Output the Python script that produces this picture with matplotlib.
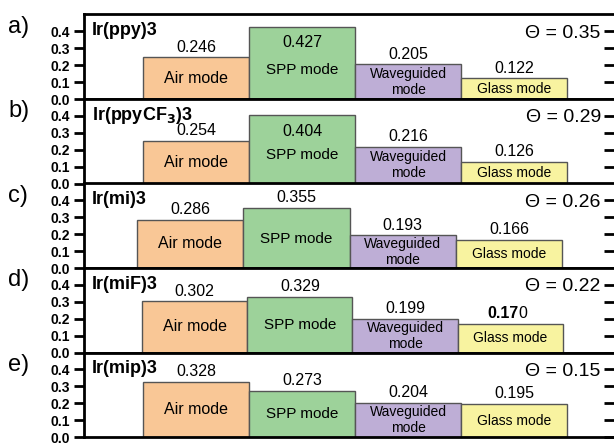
import matplotlib
matplotlib.use("Agg")
import matplotlib.pyplot as plt

plt.rcParams['font.family'] = ['Liberation Sans', 'DejaVu Sans']

# data
letters = ['a)', 'b)', 'c)', 'd)', 'e)']
emitters = ['Ir(ppy)3', r'Ir(ppyCF$_\mathbf{3}$)3', 'Ir(mi)3', 'Ir(miF)3', 'Ir(mip)3']
thetas = [0.35, 0.29, 0.26, 0.22, 0.15]
modes = ['Air mode', 'SPP mode', 'Waveguided\nmode', 'Glass mode']
air = [0.246, 0.254, 0.286, 0.302, 0.328]
spp = [0.427, 0.404, 0.355, 0.329, 0.273]
wg = [0.205, 0.216, 0.193, 0.199, 0.204]
glass = [0.122, 0.126, 0.166, 0.170, 0.195]
yticks = [0.0, 0.1, 0.2, 0.3, 0.4]

colors = ['#F9C796', '#9DD29A', '#BEAED6', '#F8F3A0']
mode_fs = [11.5, 11, 10, 10]

# small per-panel layout shifts (left edge of first bar, bar width)
starts = [0.557, 0.557, 0.50, 0.547, 0.557]
widths = [1.0, 1.0, 1.003, 0.993, 1.0]

W, H = 614, 444
fig = plt.figure(figsize=(W / 100, H / 100), dpi=100)

left_px, bottom_px, ph = 84, 7, 84.5
for i in range(5):
    y0 = bottom_px + (4 - i) * ph
    ax = fig.add_axes([left_px / W, y0 / H, 1 - left_px / W, ph / H])
    vals = [air[i], spp[i], wg[i], glass[i]]
    w = widths[i]
    xs = [starts[i] + w * (k + 0.5) for k in range(4)]
    ax.bar(xs, vals, width=w, color=colors, edgecolor='#555555', linewidth=1.0, zorder=2)
    ax.set_xlim(0, 5)
    ax.set_ylim(0, 0.5)
    ax.set_xticks([])
    ax.set_yticks(yticks)
    ax.set_yticklabels([f'{t:.1f}' for t in yticks], fontweight='bold', fontsize=10)
    ax.tick_params(axis='y', which='both', direction='out', length=7, width=2, pad=3,
                   right=True, labelright=False)
    for t in ax.yaxis.get_ticklines()[1::2]:
        t.set_marker(0)  # right side ticks pointing inward
        t.set_markersize(7)
    for s in ['top', 'bottom', 'left']:
        ax.spines[s].set_linewidth(2)
    ax.spines['right'].set_visible(False)

    for k, (x, v) in enumerate(zip(xs, vals)):
        txt = f'{v:.3f}'
        if v > 0.4:
            ax.annotate(txt, (x, v), xytext=(0, -6), textcoords='offset points',
                        ha='center', va='top', fontsize=11.5)
        elif i == 3 and k == 3:
            ax.annotate(txt[:-1], (x, v), xytext=(6, 2), textcoords='offset points',
                        ha='right', va='bottom', fontsize=11.5, fontweight='bold')
            ax.annotate(txt[-1], (x, v), xytext=(6, 2), textcoords='offset points',
                        ha='left', va='bottom', fontsize=11.5)
        else:
            ax.annotate(txt, (x, v), xytext=(0, 2), textcoords='offset points',
                        ha='center', va='bottom', fontsize=11.5)
        ax.text(x, min(v / 2, 0.17), modes[k], ha='center', va='center',
                fontsize=mode_fs[k], linespacing=1.15, zorder=3)

    ax.text(0.015, 0.81, emitters[i], transform=ax.transAxes, ha='left', va='center',
            fontsize=13, fontweight='bold')
    ax.text(0.975, 0.78, f'Θ = {thetas[i]:.2f}', transform=ax.transAxes,
            ha='right', va='center', fontsize=14)
    fig.text(8 / W, 1 - (H - y0 - ph + 12) / H, letters[i], ha='left', va='center',
             fontsize=17)

fig.savefig('out.png', dpi=100)
